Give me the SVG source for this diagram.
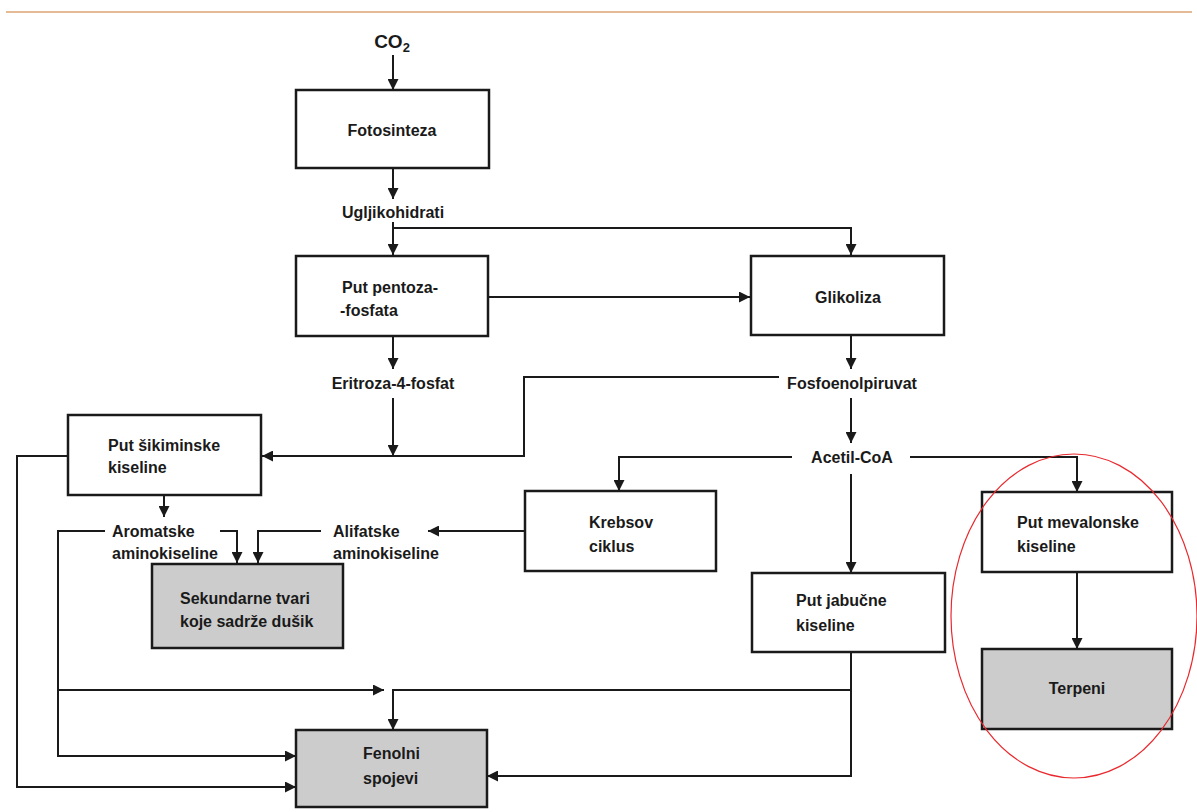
<svg xmlns="http://www.w3.org/2000/svg" width="1197" height="812" viewBox="0 0 1197 812">
<style>
  .box{fill:#fff;stroke:#1a1a1a;stroke-width:2.5}
  .gray{fill:#cccccc;stroke:#1a1a1a;stroke-width:2.5}
  .t{font-family:"Liberation Sans",Arial,sans-serif;font-size:16px;font-weight:bold;fill:#1a1a1a}
  .c{text-anchor:middle}
  .e{fill:none;stroke:#1a1a1a;stroke-width:2;marker-end:url(#ah)}
</style>
<defs>
  <marker id="ah" markerUnits="userSpaceOnUse" markerWidth="12" markerHeight="11" refX="11" refY="5.5" orient="auto">
    <path d="M0,0 L11,5.5 L0,11 z" fill="#1a1a1a"/>
  </marker>
</defs>
<rect width="1197" height="812" fill="#fff"/>
<line x1="6" y1="12" x2="1192" y2="12" stroke="#dca574" stroke-width="1.5"/>

<g id="connectors">
  <path class="e" d="M393,55 V90"/>
  <path class="e" d="M393,168 V199"/>
  <path class="e" d="M393,222 V255"/>
  <path class="e" d="M393,228 H851 V255"/>
  <path class="e" d="M489,297 H750"/>
  <path class="e" d="M393,337 V369"/>
  <path class="e" d="M393,398 V456"/>
  <path class="e" d="M851,335 V369"/>
  <path class="e" d="M779,377 H524 V456 H262"/>
  <path class="e" d="M851,398 V443"/>
  <path class="e" d="M792,457 H619 V491"/>
  <path class="e" d="M851,474 V573"/>
  <path class="e" d="M910,457 H1077 V492"/>
  <path class="e" d="M1077,572 V649"/>
  <path class="e" d="M164,495 V517"/>
  <path class="e" d="M68,456 H17 V787 H296"/>
  <path class="e" d="M105,531 H58 V756 H296"/>
  <path class="e" d="M58,690 H384"/>
  <path class="e" d="M220,531 H237 V563"/>
  <path class="e" d="M321,531 H258 V563"/>
  <path class="e" d="M524,531 H428"/>
  <path class="e" d="M851,652 V690 H393 V730"/>
  <path class="e" d="M851,690 V776 H487"/>
</g>

<g id="co2">
  <text class="t c" x="392" y="48" style="font-size:19px">CO<tspan style="font-size:13px" dy="4">2</tspan></text>
</g>
<g id="fotosinteza">
  <rect class="box" x="296" y="90" width="193" height="78"/>
  <text class="t c" x="392" y="136">Fotosinteza</text>
</g>
<g id="ugljikohidrati">
  <text class="t c" x="393" y="218">Ugljikohidrati</text>
</g>
<g id="pentoza">
  <rect class="box" x="296" y="256" width="192" height="80"/>
  <text class="t" x="342" y="293">Put pentoza-</text>
  <text class="t" x="340" y="316">-fosfata</text>
</g>
<g id="glikoliza">
  <rect class="box" x="751" y="256" width="193" height="79"/>
  <text class="t c" x="848" y="303">Glikoliza</text>
</g>
<g id="eritroza">
  <text class="t c" x="393" y="389">Eritroza-4-fosfat</text>
</g>
<g id="fosfoenolpiruvat">
  <text class="t c" x="852" y="389">Fosfoenolpiruvat</text>
</g>
<g id="acetil">
  <text class="t c" x="852" y="463">Acetil-CoA</text>
</g>
<g id="sikiminske">
  <rect class="box" x="68" y="415" width="193" height="80"/>
  <text class="t" x="108" y="451">Put šikiminske</text>
  <text class="t" x="108" y="473">kiseline</text>
</g>
<g id="aromatske">
  <text class="t" x="112" y="537">Aromatske</text>
  <text class="t" x="112" y="559">aminokiseline</text>
</g>
<g id="alifatske">
  <text class="t" x="333" y="537">Alifatske</text>
  <text class="t" x="333" y="559">aminokiseline</text>
</g>
<g id="sekundarne">
  <rect class="gray" x="152" y="564" width="191" height="84"/>
  <text class="t" x="180" y="604">Sekundarne tvari</text>
  <text class="t" x="180" y="627">koje sadrže dušik</text>
</g>
<g id="krebsov">
  <rect class="box" x="525" y="491" width="191" height="80"/>
  <text class="t" x="589" y="528">Krebsov</text>
  <text class="t" x="589" y="552">ciklus</text>
</g>
<g id="jabucne">
  <rect class="box" x="752" y="573" width="193" height="79"/>
  <text class="t" x="796" y="606">Put jabučne</text>
  <text class="t" x="796" y="631">kiseline</text>
</g>
<g id="mevalonske">
  <rect class="box" x="982" y="492" width="190" height="80"/>
  <text class="t" x="1017" y="528">Put mevalonske</text>
  <text class="t" x="1017" y="552">kiseline</text>
</g>
<g id="terpeni">
  <rect class="gray" x="982" y="649" width="190" height="80"/>
  <text class="t c" x="1077" y="694">Terpeni</text>
</g>
<g id="fenolni">
  <rect class="gray" x="296" y="730" width="191" height="77"/>
  <text class="t" x="363" y="759">Fenolni</text>
  <text class="t" x="363" y="784">spojevi</text>
</g>
<g id="highlight">
  <ellipse cx="1074" cy="616" rx="123" ry="162" fill="none" stroke="#e8292e" stroke-width="1.2"/>
</g>
</svg>
